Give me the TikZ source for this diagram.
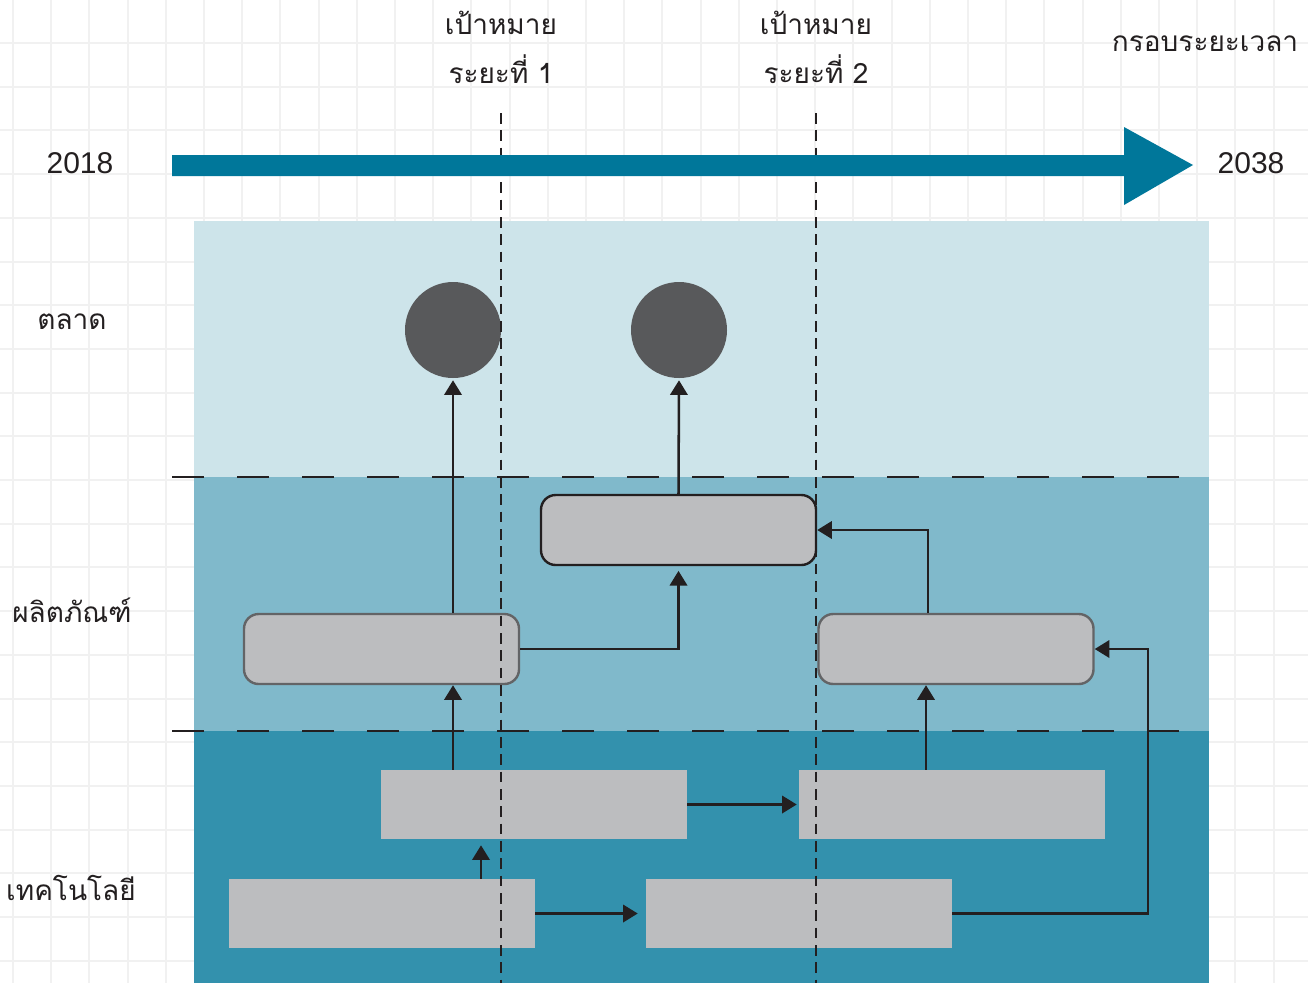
\documentclass[tikz,border=0pt]{standalone}
\usepackage{fontspec}
\setmainfont{Liberation Sans}
\newfontfamily\thai[Script=Thai]{Loma}
\usetikzlibrary{arrows.meta}
\definecolor{ink}{HTML}{231F20}
\definecolor{gridc}{HTML}{F1F1F1}
\definecolor{bandA}{HTML}{CDE4EA}
\definecolor{bandB}{HTML}{80B9CB}
\definecolor{bandC}{HTML}{3391AD}
\definecolor{boxc}{HTML}{BCBDBF}
\definecolor{boxedge}{HTML}{636466}
\definecolor{dotc}{HTML}{58595B}
\definecolor{timec}{HTML}{00779A}
\tikzset{
  lbl/.style={text=ink, inner sep=0pt, font=\thai\fontsize{21}{25}\selectfont},
  yearlbl/.style={text=ink, inner sep=0pt, font=\fontsize{22.5}{26}\selectfont},
  rbox/.style={draw=boxedge, fill=boxc, line width=1.8pt, rounded corners=11pt,
    minimum width=206.25pt, minimum height=52.5pt, inner sep=0pt},
  rboxdark/.style={rbox, draw=ink},
  tbox/.style={fill=boxc, draw=none, minimum width=229.5pt, minimum height=51.75pt, inner sep=0pt},
  dot/.style={circle, fill=dotc, minimum size=72pt, inner sep=0pt},
  arr/.style={draw=ink, line width=1.9pt, -{Triangle[length=11pt,width=13pt]}},
  vdash/.style={draw=ink, line width=1.5pt, dash pattern=on 8pt off 5pt},
  hdash/.style={draw=ink, line width=2.2pt, dash pattern=on 24pt off 24.75pt}
}
\begin{document}
\begin{tikzpicture}[x=0.75pt,y=-0.75pt]
\useasboundingbox (0,0) rectangle (1308,983);
\fill[white] (0,0) rectangle (1308,983);
% grid
\foreach \i in {0,...,34} {\draw[gridc, line width=1.5pt] ({13+38.2*\i},0) -- ({13+38.2*\i},983);}
\foreach \j in {0,...,21} {\draw[gridc, line width=1.5pt] (0,{43+43.7*\j}) -- (1308,{43+43.7*\j});}
% bands
\fill[bandA] (194,221) rectangle (1209,477);
\fill[bandB] (194,477) rectangle (1209,731);
\fill[bandC] (194,731) rectangle (1209,983);
\draw[hdash] (172,477) -- (1190,477);
\draw[hdash] (172,731) -- (1190,731);
% labels
\node[yearlbl] (y1) at (80,163) {2018};
\node[yearlbl] (y2) at (1251,163) {2038};
\node[lbl] (frame) at (1205,44) {กรอบระยะเวลา};
\node[lbl] (g1a) at (501,23) {เป้าหมาย};
\node[lbl] (g1b) at (501,69) {ระยะที่ 1};
\node[lbl] (g2a) at (816,23) {เป้าหมาย};
\node[lbl] (g2b) at (816,69) {ระยะที่ 2};
\node[lbl] (market) at (72,322) {ตลาด};
\node[lbl] (product) at (72,610) {ผลิตภัณฑ์};
\node[lbl] (tech) at (71,888) {เทคโนโลยี};
% boxes
\node[rbox] (P1) at (381.5,649) {};
\node[rboxdark] (P2) at (678.5,530) {};
\node[rbox] (P3) at (956,649) {};
\node[tbox] (T1) at (534,804.5) {};
\node[tbox] (T2) at (952,804.5) {};
\node[tbox] (T3) at (382,913.5) {};
\node[tbox] (T4) at (799,913.5) {};
\node[dot] (C1) at (453,330) {};
\node[dot] (C2) at (679,330) {};
% helper coordinates
\coordinate (xa) at (481,0);
\coordinate (xb) at (926,0);
\coordinate (xc) at (928,0);
\coordinate (rt) at (1148,780);
% connectors
\draw[arr] (T1.north -| C1) -- (P1.south -| C1);
\draw[arr, shorten >=1.5pt] (P1.north -| C1) -- (C1.south);
\draw[arr, shorten >=3.5pt] (P1.east) -| (P2.south);
\draw[arr, shorten >=1.5pt] (P2.north) -- (C2.south);
\draw[arr, shorten >=4.5pt] (T3.north -| xa) -- (T1.south -| xa);
\draw[arr, shorten >=1.5pt] (T1.east) -- (T2.west);
\draw[arr, shorten >=6pt] (T3.east) -- (T4.west);
\draw[arr] (T2.north -| xb) -- (P3.south -| xb);
\draw[arr] (P3.north -| xc) |- (P2.east);
\draw[arr] (T4.east) -| (rt) |- (P3.east);
% milestone lines
\draw[vdash] (501,113) -- (501,983);
\draw[vdash] (816,113) -- (816,983);
% time arrow
\fill[timec] (172,155) -- (1124,155) -- (1124,127) -- (1193,165) -- (1124,205) -- (1124,176) -- (172,176) -- cycle;
\end{tikzpicture}
\end{document}
